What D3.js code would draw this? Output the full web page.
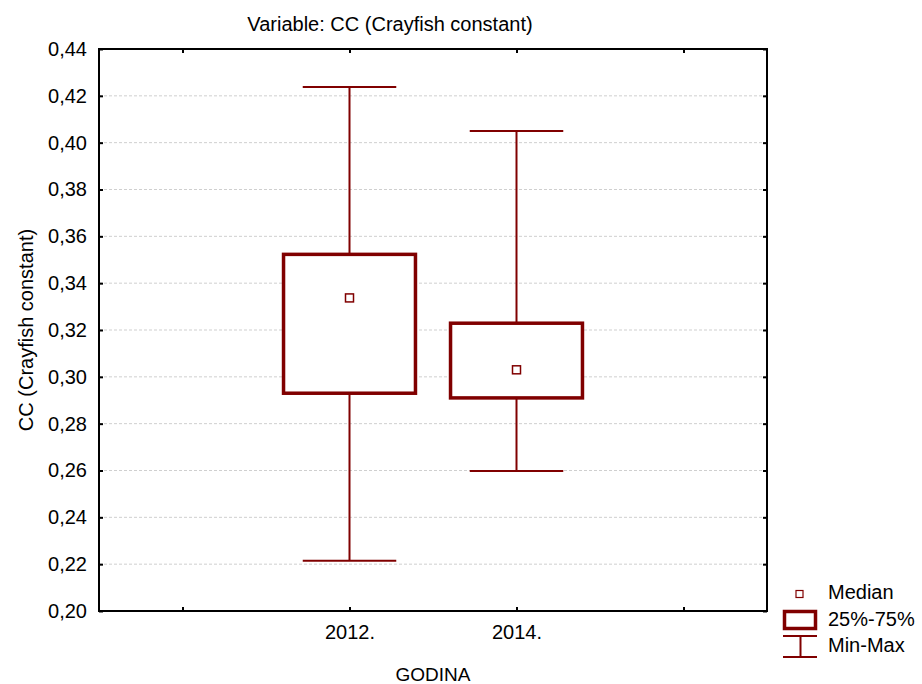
<!DOCTYPE html>
<html>
<head>
<meta charset="utf-8">
<script src="https://cdn.jsdelivr.net/npm/d3@7"></script>
<style>
  body { margin: 0; background: #fff; }
  text { font-family: "Liberation Sans", Arial, sans-serif; fill: #000; }
</style>
</head>
<body>
<script>
// box plot data
const years = ['2012.', '2014.'];
const mins = [0.2215, 0.2598];
const q1s = [0.2930, 0.2910];
const medians = [0.3337, 0.3030];
const q3s = [0.3523, 0.3229];
const maxs = [0.4238, 0.4050];
const yTicks = [0.20, 0.22, 0.24, 0.26, 0.28, 0.30, 0.32, 0.34, 0.36, 0.38, 0.40, 0.42, 0.44];

const width = 922, height = 684;
const margin = { top: 49, right: 155, bottom: 73, left: 99 };
const boxColor = '#800000';

const svg = d3.select('body').append('svg')
  .attr('width', width)
  .attr('height', height);

const x = d3.scaleLinear()
  .domain([-0.5, 3.5])
  .range([margin.left, width - margin.right]);

const y = d3.scaleLinear()
  .domain([0.20, 0.44])
  .range([height - margin.bottom, margin.top]);

const fmt = d => d3.format('.2f')(d).replace('.', ',');

// grid lines
svg.append('g')
  .selectAll('line')
  .data(yTicks.slice(1, -1))
  .enter()
  .append('line')
  .attr('x1', x(-0.5))
  .attr('x2', x(3.5))
  .attr('y1', d => y(d))
  .attr('y2', d => y(d))
  .attr('stroke', '#cfcfcf')
  .attr('stroke-width', 1)
  .attr('stroke-dasharray', '3,2');

// axes (ticks point inward)
svg.append('g')
  .attr('transform', `translate(${x(-0.5)},0)`)
  .call(d3.axisLeft(y).tickValues(yTicks).tickFormat(fmt).tickSize(-4).tickPadding(12))
  .call(g => g.select('.domain').remove())
  .call(g => g.selectAll('line').attr('stroke', '#000').attr('stroke-width', 2))
  .call(g => g.selectAll('text').attr('font-size', 20).attr('font-family', '"Liberation Sans", Arial, sans-serif'));

svg.append('g')
  .attr('transform', `translate(${x(3.5)},0)`)
  .call(d3.axisRight(y).tickValues(yTicks).tickFormat('').tickSize(-4))
  .call(g => g.select('.domain').remove())
  .call(g => g.selectAll('line').attr('stroke', '#000').attr('stroke-width', 2));

svg.append('g')
  .attr('transform', `translate(0,${y(0.20)})`)
  .call(d3.axisBottom(x).tickValues([0, 1, 2, 3]).tickFormat(d => years[d - 1] || '').tickSize(-4).tickPadding(14))
  .call(g => g.select('.domain').remove())
  .call(g => g.selectAll('line').attr('stroke', '#000').attr('stroke-width', 2))
  .call(g => g.selectAll('text').attr('font-size', 20).attr('font-family', '"Liberation Sans", Arial, sans-serif'));

svg.append('g')
  .attr('transform', `translate(0,${y(0.44)})`)
  .call(d3.axisTop(x).tickValues([0, 1, 2, 3]).tickFormat('').tickSize(-4))
  .call(g => g.select('.domain').remove())
  .call(g => g.selectAll('line').attr('stroke', '#000').attr('stroke-width', 2));

// frame
svg.append('rect')
  .attr('x', x(-0.5))
  .attr('y', y(0.44))
  .attr('width', x(3.5) - x(-0.5))
  .attr('height', y(0.20) - y(0.44))
  .attr('fill', 'none')
  .attr('stroke', '#000')
  .attr('stroke-width', 2);

// boxes
const boxW = 0.79, capW = 0.56;
years.forEach((yr, i) => {
  const cx = x(i + 1);
  const g = svg.append('g');
  // whiskers
  g.append('line')
    .attr('x1', cx).attr('x2', cx)
    .attr('y1', y(maxs[i])).attr('y2', y(q3s[i]))
    .attr('stroke', boxColor).attr('stroke-width', 2);
  g.append('line')
    .attr('x1', cx).attr('x2', cx)
    .attr('y1', y(q1s[i])).attr('y2', y(mins[i]))
    .attr('stroke', boxColor).attr('stroke-width', 2);
  [maxs[i], mins[i]].forEach(v => {
    g.append('line')
      .attr('x1', x(i + 1 - capW / 2)).attr('x2', x(i + 1 + capW / 2))
      .attr('y1', y(v)).attr('y2', y(v))
      .attr('stroke', boxColor).attr('stroke-width', 2);
  });
  g.append('rect')
    .attr('x', x(i + 1 - boxW / 2))
    .attr('y', y(q3s[i]))
    .attr('width', x(i + 1 + boxW / 2) - x(i + 1 - boxW / 2))
    .attr('height', y(q1s[i]) - y(q3s[i]))
    .attr('fill', '#fff')
    .attr('stroke', boxColor)
    .attr('stroke-width', 3.5);
  g.append('rect')
    .attr('x', cx - 4).attr('y', y(medians[i]) - 4)
    .attr('width', 8).attr('height', 8)
    .attr('fill', '#fff')
    .attr('stroke', boxColor)
    .attr('stroke-width', 1.5);
});

// titles
svg.append('text')
  .attr('x', 390).attr('y', 31)
  .attr('text-anchor', 'middle')
  .attr('font-size', 20)
  .text('Variable: CC (Crayfish constant)');

svg.append('text')
  .attr('x', 433).attr('y', 681)
  .attr('text-anchor', 'middle')
  .attr('font-size', 19)
  .text('GODINA');

svg.append('text')
  .attr('transform', `translate(33,330) rotate(-90)`)
  .attr('text-anchor', 'middle')
  .attr('font-size', 20)
  .text('CC (Crayfish constant)');

// legend
const lg = svg.append('g');
lg.append('rect')
  .attr('x', 796).attr('y', 590.5).attr('width', 7).attr('height', 7)
  .attr('fill', '#fff').attr('stroke', boxColor).attr('stroke-width', 1.2);
lg.append('rect')
  .attr('x', 784.5).attr('y', 611.5).attr('width', 31).attr('height', 17)
  .attr('fill', '#fff').attr('stroke', boxColor).attr('stroke-width', 3.5);
lg.append('line')
  .attr('x1', 783).attr('x2', 817).attr('y1', 636).attr('y2', 636)
  .attr('stroke', boxColor).attr('stroke-width', 2);
lg.append('line')
  .attr('x1', 783).attr('x2', 817).attr('y1', 657).attr('y2', 657)
  .attr('stroke', boxColor).attr('stroke-width', 2);
lg.append('line')
  .attr('x1', 800.5).attr('x2', 800.5).attr('y1', 636).attr('y2', 657)
  .attr('stroke', boxColor).attr('stroke-width', 2);
[['Median', 599], ['25%-75%', 626], ['Min-Max', 652]].forEach(([t, ty]) => {
  lg.append('text').attr('x', 828).attr('y', ty).attr('font-size', 20).text(t);
});
</script>
</body>
</html>
